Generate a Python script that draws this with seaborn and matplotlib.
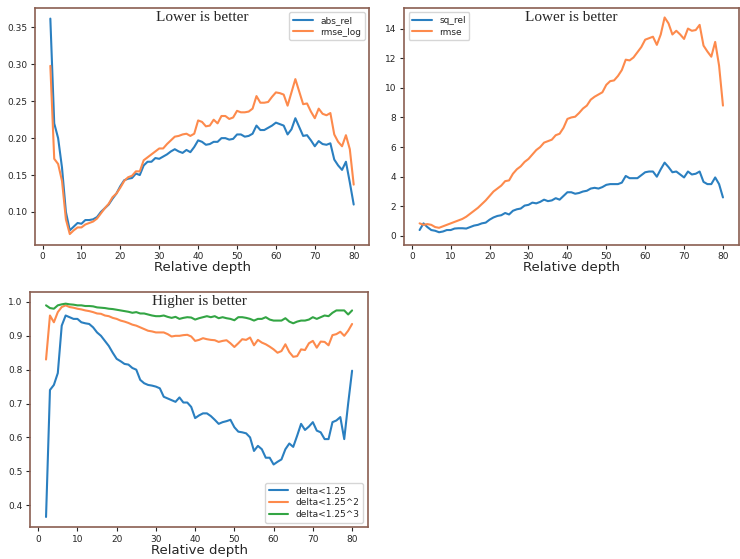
import numpy as np
import pandas as pd
import matplotlib
matplotlib.use('Agg')
import matplotlib.pyplot as plt
import seaborn as sns

depth = list(range(2, 81))

abs_rel = [0.362, 0.22, 0.20, 0.16, 0.10, 0.075, 0.08, 0.085, 0.084, 0.089,
           0.089, 0.09, 0.093, 0.10, 0.105, 0.11, 0.118, 0.125, 0.135, 0.143,
           0.145, 0.146, 0.152, 0.150, 0.163, 0.168, 0.168, 0.173, 0.172, 0.175,
           0.178, 0.182, 0.185, 0.182, 0.180, 0.184, 0.181, 0.188, 0.197, 0.195,
           0.191, 0.192, 0.195, 0.195, 0.200, 0.200, 0.198, 0.199, 0.205, 0.205,
           0.202, 0.203, 0.206, 0.217, 0.211, 0.211, 0.214, 0.217, 0.221, 0.219,
           0.217, 0.205, 0.212, 0.227, 0.215, 0.203, 0.204, 0.197, 0.189, 0.196,
           0.192, 0.191, 0.193, 0.171, 0.163, 0.157, 0.168, 0.140, 0.110]
rmse_log = [0.298, 0.172, 0.165, 0.142, 0.09, 0.070, 0.075, 0.079, 0.079, 0.083,
            0.085, 0.087, 0.091, 0.098, 0.105, 0.111, 0.120, 0.125, 0.133, 0.142,
            0.147, 0.149, 0.155, 0.155, 0.170, 0.174, 0.178, 0.182, 0.186, 0.186,
            0.192, 0.197, 0.202, 0.203, 0.205, 0.206, 0.203, 0.206, 0.224, 0.222,
            0.216, 0.217, 0.225, 0.220, 0.230, 0.230, 0.226, 0.228, 0.237, 0.235,
            0.235, 0.236, 0.240, 0.257, 0.248, 0.248, 0.249, 0.256, 0.262, 0.261,
            0.259, 0.244, 0.262, 0.280, 0.263, 0.246, 0.247, 0.236, 0.227, 0.240,
            0.233, 0.231, 0.234, 0.205, 0.195, 0.189, 0.204, 0.185, 0.137]

sq_rel = [0.4, 0.85, 0.6, 0.4, 0.35, 0.25, 0.3, 0.4, 0.4, 0.5,
          0.52, 0.52, 0.5, 0.6, 0.7, 0.75, 0.85, 0.9, 1.1, 1.25,
          1.35, 1.4, 1.55, 1.45, 1.7, 1.8, 1.85, 2.05, 2.1, 2.25,
          2.2, 2.3, 2.45, 2.35, 2.4, 2.55, 2.45, 2.7, 2.95, 2.95,
          2.85, 2.9, 3.0, 3.05, 3.2, 3.25, 3.2, 3.3, 3.45, 3.5,
          3.5, 3.5, 3.6, 4.05, 3.9, 3.9, 3.9, 4.1, 4.3, 4.35,
          4.35, 4.0, 4.5, 4.95, 4.65, 4.3, 4.35, 4.15, 3.95, 4.35,
          4.15, 4.2, 4.35, 3.65, 3.5, 3.5, 3.95, 3.5, 2.6]
rmse = [0.85, 0.75, 0.8, 0.75, 0.6, 0.55, 0.65, 0.75, 0.85, 0.95,
        1.05, 1.15, 1.3, 1.5, 1.7, 1.9, 2.15, 2.4, 2.7, 3.0,
        3.2, 3.4, 3.7, 3.75, 4.2, 4.5, 4.7, 5.0, 5.2, 5.5,
        5.8, 6.0, 6.3, 6.4, 6.5, 6.8, 6.9, 7.3, 7.9, 8.0,
        8.05, 8.3, 8.6, 8.8, 9.2, 9.4, 9.55, 9.7, 10.2, 10.45,
        10.5, 10.8, 11.2, 11.9, 11.85, 12.05, 12.4, 12.75, 13.25, 13.35,
        13.45, 12.9, 13.6, 14.75, 14.35, 13.6, 13.85, 13.6, 13.3, 14.0,
        13.85, 13.9, 14.25, 12.85, 12.45, 12.1, 13.1, 11.5, 8.8]

delta1 = [0.365, 0.74, 0.755, 0.79, 0.93, 0.96, 0.955, 0.95, 0.95, 0.94,
          0.937, 0.935, 0.925, 0.91, 0.90, 0.885, 0.87, 0.85, 0.832, 0.825,
          0.817, 0.815, 0.805, 0.80, 0.77, 0.76, 0.755, 0.753, 0.75, 0.745,
          0.72, 0.715, 0.71, 0.705, 0.718, 0.703, 0.703, 0.69, 0.657, 0.665,
          0.671, 0.671, 0.663, 0.652, 0.64, 0.645, 0.648, 0.652, 0.63, 0.617,
          0.615, 0.612, 0.60, 0.56, 0.575, 0.565, 0.54, 0.54, 0.52, 0.528,
          0.535, 0.565, 0.582, 0.572, 0.605, 0.64, 0.622, 0.632, 0.645, 0.62,
          0.615, 0.595, 0.595, 0.645, 0.65, 0.66, 0.595, 0.70, 0.797]
delta2 = [0.83, 0.96, 0.94, 0.97, 0.985, 0.99, 0.985, 0.983, 0.98, 0.978,
          0.975, 0.973, 0.97, 0.966, 0.965, 0.96, 0.958, 0.953, 0.95, 0.945,
          0.942, 0.938, 0.933, 0.93, 0.925, 0.92, 0.915, 0.913, 0.91, 0.91,
          0.91, 0.905, 0.898, 0.90, 0.90, 0.902, 0.903, 0.898, 0.885, 0.888,
          0.893, 0.89, 0.888, 0.887, 0.882, 0.885, 0.887, 0.878, 0.867, 0.878,
          0.89, 0.888, 0.895, 0.872, 0.888, 0.88, 0.875, 0.868, 0.86, 0.85,
          0.855, 0.875, 0.852, 0.838, 0.84, 0.86, 0.858, 0.878, 0.885, 0.865,
          0.883, 0.882, 0.872, 0.902, 0.905, 0.912, 0.90, 0.915, 0.935]
delta3 = [0.99, 0.982, 0.98, 0.99, 0.993, 0.995, 0.993, 0.992, 0.99, 0.99,
          0.988, 0.988, 0.987, 0.984, 0.983, 0.982, 0.98, 0.979, 0.977, 0.975,
          0.973, 0.971, 0.968, 0.97, 0.966, 0.966, 0.963, 0.96, 0.958, 0.958,
          0.96, 0.956, 0.953, 0.956, 0.95, 0.953, 0.955, 0.954, 0.948, 0.952,
          0.955, 0.958, 0.955, 0.958, 0.952, 0.955, 0.952, 0.95, 0.946, 0.955,
          0.955, 0.953, 0.95, 0.945, 0.95, 0.95, 0.955, 0.948, 0.945, 0.945,
          0.945, 0.952, 0.942, 0.937, 0.942, 0.945, 0.945, 0.948, 0.955, 0.95,
          0.955, 0.96, 0.958, 0.968, 0.975, 0.975, 0.975, 0.963, 0.975]

sns.set_style('ticks')
plt.rcParams['font.family'] = ['DejaVu Sans']
palette = ['#2a7fc0', '#fd8a4c', '#33a544']
spine_col = '#8a5f52'

fig = plt.figure(figsize=(7.4, 5.59), dpi=100)
ax1 = fig.add_axes([0.047, 0.562, 0.452, 0.424])
ax2 = fig.add_axes([0.546, 0.562, 0.452, 0.424])
ax3 = fig.add_axes([0.041, 0.057, 0.456, 0.421])


def draw(ax, series, title, legend_loc):
    df = pd.DataFrame({'depth': depth, **series}).melt(
        'depth', var_name='metric', value_name='value')
    sns.lineplot(data=df, x='depth', y='value', hue='metric',
                 palette=palette[:len(series)], linewidth=1.5, ax=ax)
    ax.set_xlabel('Relative depth', fontsize=9.5, labelpad=0)
    ax.set_ylabel('')
    ax.set_xticks(range(0, 81, 10))
    ax.tick_params(labelsize=6.5, length=3, width=0.8, pad=2.5)
    for s in ax.spines.values():
        s.set_color(spine_col)
        s.set_linewidth(1.2)
    ax.text(0.5, 0.985, title, transform=ax.transAxes, ha='center', va='top',
            fontsize=11, family='Liberation Serif')
    ax.legend(loc=legend_loc, fontsize=6.5, frameon=True, handlelength=2.2,
              borderpad=0.4, labelspacing=0.3)


draw(ax1, {'abs_rel': abs_rel, 'rmse_log': rmse_log}, 'Lower is better', 'upper right')
ax1.set_yticks([0.10, 0.15, 0.20, 0.25, 0.30, 0.35])
ax1.set_xlim(-2, 84)

draw(ax2, {'sq_rel': sq_rel, 'rmse': rmse}, 'Lower is better', 'upper left')
ax2.set_yticks(range(0, 15, 2))
ax2.set_xlim(-2, 84)
ax2.set_ylim(-0.6, 15.4)

draw(ax3, {'delta<1.25': delta1, 'delta<1.25^2': delta2, 'delta<1.25^3': delta3},
     'Higher is better', 'lower right')
ax3.set_xlim(-2, 84)
ax3.set_ylim(0.335, 1.03)

fig.savefig('out.png', dpi=100)
